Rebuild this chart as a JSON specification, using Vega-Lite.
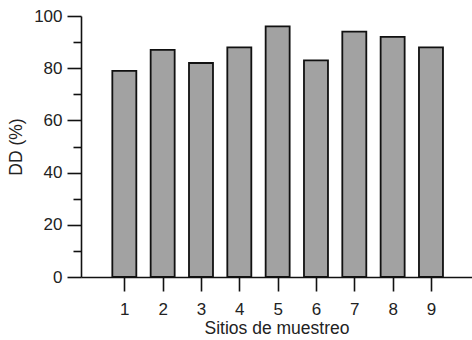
{
  "$schema": "https://vega.github.io/schema/vega-lite/v6.json",
  "width": 391,
  "height": 261,
  "autosize": "none",
  "padding": {"left": 81, "top": 16, "right": 0, "bottom": 63},
  "background": "white",
  "config": {
    "view": {"stroke": null},
    "axis": {
      "labelFont": "Liberation Sans",
      "titleFont": "Liberation Sans",
      "labelFontSize": 17,
      "titleFontSize": 17.5,
      "labelColor": "#222",
      "titleColor": "#222",
      "titleFontWeight": "normal",
      "domainColor": "#111",
      "domainWidth": 1.6,
      "tickColor": "#111",
      "tickWidth": 1.6,
      "grid": false
    }
  },
  "data": {
    "values": [
      {"sitio": 1, "dd": 79},
      {"sitio": 2, "dd": 87},
      {"sitio": 3, "dd": 82},
      {"sitio": 4, "dd": 88},
      {"sitio": 5, "dd": 96},
      {"sitio": 6, "dd": 83},
      {"sitio": 7, "dd": 94},
      {"sitio": 8, "dd": 92},
      {"sitio": 9, "dd": 88}
    ]
  },
  "mark": {"type": "bar", "width": 24, "fill": "#a2a2a2", "stroke": "#111", "strokeWidth": 1.8},
  "encoding": {
    "x": {
      "field": "sitio",
      "type": "quantitative",
      "scale": {"domain": [0, 9.94], "nice": false, "zero": false},
      "axis": {
        "values": [1, 2, 3, 4, 5, 6, 7, 8, 9],
        "title": "Sitios de muestreo",
        "tickSize": 14,
        "labelPadding": 10,
        "titlePadding": 2,
        "labelFlush": false
      }
    },
    "y": {
      "field": "dd",
      "type": "quantitative",
      "scale": {"domain": [0, 100], "nice": false},
      "axis": {
        "values": [0, 10, 20, 30, 40, 50, 60, 70, 80, 90, 100],
        "labelExpr": "datum.value % 20 === 0 ? datum.label : ''",
        "tickSize": {"condition": {"test": "datum.value % 20 === 0", "value": 14}, "value": 8},
        "labelPadding": 5,
        "title": "DD (%)",
        "titlePadding": 8
      }
    }
  }
}
